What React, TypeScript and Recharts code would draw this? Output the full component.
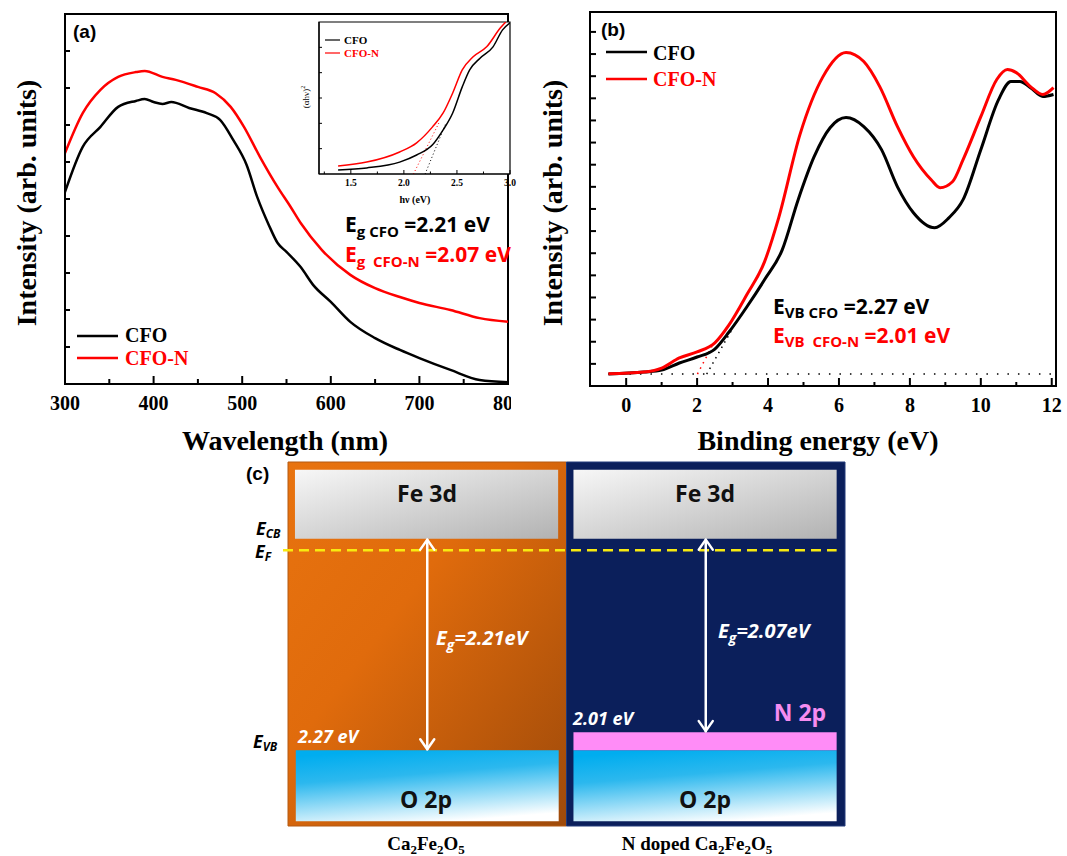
import React from "react";
import { LineChart, Line, XAxis, YAxis, ReferenceArea, ReferenceLine, ComposedChart } from "recharts";

const SERIF = "'Liberation Serif', 'Times New Roman', serif";
const SANS = "'Open Sans', 'Liberation Sans', sans-serif";
const ARIAL = "'Liberation Sans', Arial, sans-serif";
const RED = "#ff0000";

// (a) UV-vis absorbance, arb. units
const cfoWl = [300, 320, 340, 360, 380, 390, 400, 410, 420, 440, 460, 475, 490, 505, 517, 530, 540, 550, 566, 580, 600, 622, 650, 678, 700, 735, 768, 800];
const cfoAbs = [5.19, 6.41, 6.95, 7.49, 7.65, 7.7, 7.62, 7.57, 7.62, 7.46, 7.32, 7.14, 6.59, 5.92, 5.05, 4.3, 3.81, 3.57, 3.16, 2.68, 2.22, 1.68, 1.24, 0.92, 0.7, 0.38, 0.11, 0.05];
const cfoNWl = [300, 320, 340, 360, 380, 390, 410, 425, 450, 470, 487, 502, 520, 540, 554, 566, 590, 622, 650, 678, 700, 735, 768, 800];
const cfoNAbs = [6.24, 7.32, 7.95, 8.3, 8.43, 8.46, 8.3, 8.22, 8.03, 7.86, 7.49, 6.95, 6.14, 5.32, 4.81, 4.35, 3.62, 2.95, 2.59, 2.35, 2.19, 2.0, 1.78, 1.68];
const wlTicks = [300, 350, 400, 450, 500, 550, 600, 650, 700, 750, 800];
const absTicks = [1, 2, 3, 4, 5, 6, 7, 8, 9];

// inset: Tauc plot
const cfoHv = [1.38, 1.65, 1.96, 2.12, 2.27, 2.37, 2.46, 2.55, 2.62, 2.72, 2.84, 2.93, 3.0];
const cfoTauc = [0.16, 0.24, 0.47, 0.75, 1.15, 1.74, 2.41, 3.44, 4.11, 4.58, 5.02, 5.69, 5.97];
const cfoNHv = [1.38, 1.65, 1.96, 2.12, 2.27, 2.37, 2.46, 2.55, 2.65, 2.78, 2.91, 2.96];
const cfoNTauc = [0.32, 0.47, 0.87, 1.23, 1.86, 2.41, 3.2, 4.11, 4.62, 5.02, 5.77, 6.0];
const hvTicks = [1.25, 1.5, 1.75, 2.0, 2.25, 2.5, 2.75, 3.0];
const taucTicks = [1, 2, 3, 4, 5];

// (b) valence band XPS
const cfoBe = [-0.5, 0.5, 1.0, 1.5, 2.0, 2.5, 2.9, 3.4, 3.9, 4.4, 4.85, 5.3, 5.75, 6.2, 6.7, 7.2, 7.65, 8.1, 8.7, 9.1, 9.5, 10.0, 10.5, 10.85, 11.1, 11.4, 11.75, 12.05];
const cfoVb = [0.54, 0.63, 0.72, 1.04, 1.31, 1.67, 2.44, 3.57, 4.8, 6.15, 8.42, 10.36, 11.67, 12.13, 11.72, 10.68, 9.0, 7.83, 7.15, 7.6, 8.42, 10.68, 12.94, 13.76, 13.76, 13.48, 13.08, 13.17];
const cfoNBe = [-0.5, 0.5, 1.0, 1.5, 2.0, 2.5, 2.9, 3.4, 3.9, 4.3, 4.9, 5.55, 6.2, 6.7, 7.15, 7.65, 8.1, 8.6, 8.85, 9.2, 9.5, 10.0, 10.45, 10.75, 11.0, 11.4, 11.75, 12.05];
const cfoNVb = [0.55, 0.63, 0.81, 1.27, 1.54, 1.95, 2.76, 4.12, 5.61, 7.6, 11.36, 13.98, 15.07, 14.66, 13.53, 11.72, 10.36, 9.32, 8.96, 9.23, 10.23, 12.17, 13.85, 14.3, 14.16, 13.53, 13.17, 13.48];
const beTicks = [0, 1, 2, 3, 4, 5, 6, 7, 8, 9, 10, 11, 12];
const vbTicks = [1, 2, 3, 4, 5, 6, 7, 8, 9, 10, 11, 12, 13, 14, 15, 16];

// (c) band diagram
const gapLabels = ["2.21", "2.07"];
const vbLabels = ["2.27", "2.01"];
const bandGap = [2.21, 2.02]; // arrow length down to the top of the valence band (eV)

const pts = (xs: number[], ys: number[]) => xs.map((x, i) => ({ x, y: ys[i] }));

type TickOpts = {
  major: (v: number) => boolean;
  fmt?: (v: number) => string;
  size: number;
  dy: number;
  lenMajor: number;
  lenMinor: number;
  width: number;
};

const bottomTick = (o: TickOpts) => (props: any) => {
  const { x, y, payload } = props;
  const v = payload.value as number;
  const isMajor = o.major(v);
  return (
    <g>
      <line x1={x} x2={x} y1={y} y2={y - (isMajor ? o.lenMajor : o.lenMinor)} stroke="#000" strokeWidth={o.width} />
      {isMajor && o.fmt ? (
        <text x={x} y={y + o.dy} textAnchor="middle" fontFamily={SERIF} fontWeight="bold" fontSize={o.size} fill="#000">
          {o.fmt(v)}
        </text>
      ) : null}
    </g>
  );
};

const leftTick = (len: number, width: number) => (props: any) => (
  <line x1={props.x} x2={props.x + len} y1={props.y} y2={props.y} stroke="#000" strokeWidth={width} />
);

type Part = [string, boolean];
function Rich(props: {
  x: number; y: number; parts: Part[]; size: number; sub: number; shift: number;
  family: string; fill: string; weight?: string; italic?: boolean; anchor?: string;
}) {
  let cur = 0;
  return (
    <text
      x={props.x}
      y={props.y}
      fontFamily={props.family}
      fontSize={props.size}
      fontWeight={props.weight ?? "bold"}
      fontStyle={props.italic ? "italic" : "normal"}
      fill={props.fill}
      textAnchor={props.anchor ?? "start"}
      style={{ whiteSpace: "pre" }}
    >
      {props.parts.map(([t, isSub], i) => {
        const target = isSub ? props.shift : 0;
        const d = target - cur;
        cur = target;
        return (
          <tspan key={i} dy={d} fontSize={isSub ? props.sub : props.size}>
            {t}
          </tspan>
        );
      })}
    </text>
  );
}

const formula = (prefix: string): Part[] => [
  [prefix + "Ca", false], ["2", true], ["Fe", false], ["2", true], ["O", false], ["5", true],
];

function Arrow(p: any) {
  const { x1, y1, x2, y2 } = p;
  const top = Math.min(y1, y2) + 1;
  const bot = Math.max(y1, y2) - 1;
  return (
    <g stroke="#fff" strokeWidth={2.5} fill="none" strokeLinecap="round" strokeLinejoin="round">
      <line x1={x1} x2={x2} y1={top} y2={bot} />
      <polyline points={`${x1 - 7},${top + 10} ${x1},${top} ${x1 + 7},${top + 10}`} />
      <polyline points={`${x1 - 7},${bot - 10} ${x1},${bot} ${x1 + 7},${bot - 10}`} />
    </g>
  );
}

export default function App() {
  const wlTick = bottomTick({ major: (v) => v % 100 === 0, fmt: (v) => String(v), size: 20, dy: 26, lenMajor: 8, lenMinor: 5, width: 2 });
  const beTick = bottomTick({ major: (v) => v % 2 === 0, fmt: (v) => String(v), size: 20, dy: 26, lenMajor: 8, lenMinor: 4, width: 2 });
  const hvTick = bottomTick({
    major: (v) => Math.abs(v * 2 - Math.round(v * 2)) < 1e-6,
    fmt: (v) => v.toFixed(1),
    size: 9.5, dy: 12, lenMajor: 4, lenMinor: 2.5, width: 1,
  });

  return (
    <div style={{ position: "absolute", left: 0, top: 0, width: 1067, height: 856, background: "#fff", overflow: "hidden" }}>
      <svg width={0} height={0} style={{ position: "absolute" }}>
        <defs>
          <linearGradient id="orangeBg" x1="0" y1="0" x2="1" y2="1">
            <stop offset="0" stopColor="#e8730f" />
            <stop offset="0.4" stopColor="#e06b0c" />
            <stop offset="1" stopColor="#9e4a0a" />
          </linearGradient>
          <linearGradient id="feBand" x1="0" y1="0" x2="1" y2="1">
            <stop offset="0" stopColor="#f7f7f7" />
            <stop offset="1" stopColor="#b2b2b2" />
          </linearGradient>
          <linearGradient id="oBand" x1="0.3" y1="0" x2="0.6" y2="1">
            <stop offset="0" stopColor="#00adef" />
            <stop offset="0.35" stopColor="#2cb8ee" />
            <stop offset="1" stopColor="#ffffff" />
          </linearGradient>
        </defs>
      </svg>

      {/* (a) absorbance */}
      <div style={{ position: "absolute", left: 0, top: 0, width: 511, height: 460, overflow: "hidden" }}>
        <LineChart width={540} height={460} margin={{ top: 14, right: 32, bottom: 0, left: 5 }}>
          <XAxis type="number" dataKey="x" domain={[300, 800]} ticks={wlTicks} interval={0} tickSize={0} tickMargin={0}
            tick={wlTick} height={76} axisLine={{ stroke: "#000", strokeWidth: 2 }} allowDataOverflow />
          <YAxis type="number" domain={[0, 10]} ticks={absTicks} interval={0} tickSize={0} tickMargin={0}
            tick={leftTick(5, 2)} width={60} axisLine={{ stroke: "#000", strokeWidth: 2 }} allowDataOverflow />
          <ReferenceArea x1={300} x2={800} y1={0} y2={10} fill="none" stroke="#000" strokeWidth={2} ifOverflow="visible" />
          <Line data={pts(cfoWl, cfoAbs)} dataKey="y" type="monotone" stroke="#000" strokeWidth={2.5} dot={false} isAnimationActive={false} />
          <Line data={pts(cfoNWl, cfoNAbs)} dataKey="y" type="monotone" stroke={RED} strokeWidth={2.5} dot={false} isAnimationActive={false} />
        </LineChart>
      </div>

      {/* inset Tauc plot */}
      <div style={{ position: "absolute", left: 280, top: 15, width: 240, height: 200 }}>
        <LineChart width={240} height={200} margin={{ top: 7, right: 10, bottom: 26, left: 29 }}>
          <XAxis type="number" dataKey="x" domain={[1.2, 3.0]} ticks={hvTicks} interval={0} tickSize={0} tickMargin={0}
            tick={hvTick} height={15} axisLine={{ stroke: "#000", strokeWidth: 1.2 }} allowDataOverflow />
          <YAxis type="number" domain={[0, 6]} ticks={taucTicks} interval={0} tickSize={0} tickMargin={0}
            tick={leftTick(3, 1)} width={10} axisLine={{ stroke: "#000", strokeWidth: 1.2 }} allowDataOverflow />
          <ReferenceArea x1={1.2} x2={3.0} y1={0} y2={6} fill="#fff" fillOpacity={1} stroke="#000" strokeWidth={1.2} ifOverflow="visible" />
          <ReferenceLine segment={[{ x: 2.2, y: 0 }, { x: 2.39, y: 1.95 }]} stroke="#000" strokeWidth={1} strokeDasharray="1 2.5" />
          <ReferenceLine segment={[{ x: 2.09, y: 0 }, { x: 2.34, y: 2.1 }]} stroke={RED} strokeWidth={1} strokeDasharray="1 2.5" />
          <Line data={pts(cfoHv, cfoTauc)} dataKey="y" type="monotone" stroke="#000" strokeWidth={1.5} dot={false} isAnimationActive={false} />
          <Line data={pts(cfoNHv, cfoNTauc)} dataKey="y" type="monotone" stroke={RED} strokeWidth={1.5} dot={false} isAnimationActive={false} />
        </LineChart>
      </div>

      {/* (b) valence band */}
      <div style={{ position: "absolute", left: 530, top: 0, width: 537, height: 460 }}>
        <LineChart width={537} height={460} margin={{ top: 12, right: 11, bottom: 0, left: 0 }}>
          <XAxis type="number" dataKey="x" domain={[-1.02, 12.12]} ticks={beTicks} interval={0} tickSize={0} tickMargin={0}
            tick={beTick} height={74} axisLine={{ stroke: "#000", strokeWidth: 2 }} allowDataOverflow />
          <YAxis type="number" domain={[0, 16.9]} ticks={vbTicks} interval={0} tickSize={0} tickMargin={0}
            tick={leftTick(6, 2)} width={60} axisLine={{ stroke: "#000", strokeWidth: 2 }} allowDataOverflow />
          <ReferenceArea x1={-1.02} x2={12.12} y1={0} y2={16.9} fill="none" stroke="#000" strokeWidth={2} ifOverflow="visible" />
          <ReferenceLine segment={[{ x: -0.5, y: 0.54 }, { x: 12, y: 0.54 }]} stroke="#000" strokeWidth={1.5} strokeDasharray="1.5 9" />
          <ReferenceLine segment={[{ x: 2.27, y: 0.54 }, { x: 3.0, y: 2.6 }]} stroke="#000" strokeWidth={1.5} strokeDasharray="1.5 4.5" />
          <ReferenceLine segment={[{ x: 2.01, y: 0.54 }, { x: 2.42, y: 1.8 }]} stroke={RED} strokeWidth={1.5} strokeDasharray="1.5 4.5" />
          <Line data={pts(cfoBe, cfoVb)} dataKey="y" type="monotone" stroke="#000" strokeWidth={3} dot={false} isAnimationActive={false} />
          <Line data={pts(cfoNBe, cfoNVb)} dataKey="y" type="monotone" stroke={RED} strokeWidth={3} dot={false} isAnimationActive={false} />
        </LineChart>
      </div>

      {/* (c) band diagram */}
      <div style={{ position: "absolute", left: 240, top: 455, width: 620, height: 401 }}>
        <ComposedChart width={620} height={401} margin={{ top: 7, right: 15, bottom: 30, left: 48 }}
          data={bandGap.map((g, i) => ({ x: i + 0.5, y: -g }))}>
          <XAxis type="number" dataKey="x" domain={[0, 2]} hide allowDataOverflow />
          <YAxis type="number" domain={[-3.0, 0.8]} hide allowDataOverflow />
          <ReferenceArea x1={0} x2={1} y1={-3.0} y2={0.8} fill="url(#orangeBg)" fillOpacity={1} stroke="#b45a12" strokeWidth={1} />
          <ReferenceArea x1={1} x2={2} y1={-3.0} y2={0.8} fill="#0b1f5b" fillOpacity={1} stroke="#223a7a" strokeWidth={1} />
          <ReferenceArea x1={0.025} x2={0.97} y1={0} y2={0.72} fill="url(#feBand)" fillOpacity={1} />
          <ReferenceArea x1={1.025} x2={1.97} y1={0} y2={0.72} fill="url(#feBand)" fillOpacity={1} />
          <ReferenceArea x1={0.028} x2={0.972} y1={-2.95} y2={-2.21} fill="url(#oBand)" fillOpacity={1} />
          <ReferenceArea x1={1.025} x2={1.97} y1={-2.95} y2={-2.21} fill="url(#oBand)" fillOpacity={1} />
          <ReferenceArea x1={1.025} x2={1.97} y1={-2.21} y2={-2.02} fill="#ff8cf7" fillOpacity={1} />
          <ReferenceLine segment={[{ x: -0.018, y: -0.12 }, { x: 1.97, y: -0.12 }]} stroke="#f8ea10" strokeWidth={2.5}
            strokeDasharray="10 6" ifOverflow="visible" />
          {bandGap.map((g, i) => (
            <ReferenceLine key={i} segment={[{ x: i + 0.5, y: 0 }, { x: i + 0.5, y: -g }]} shape={Arrow} />
          ))}
        </ComposedChart>
      </div>

      {/* texts */}
      <svg width={1067} height={856} style={{ position: "absolute", left: 0, top: 0, pointerEvents: "none" }}>
        <text x={73} y={38} fontFamily={ARIAL} fontWeight="bold" fontSize={19}>(a)</text>
        <text x={601} y={36} fontFamily={ARIAL} fontWeight="bold" fontSize={19}>(b)</text>
        <text x={246} y={480} fontFamily={ARIAL} fontWeight="bold" fontSize={19}>(c)</text>

        <text transform="translate(36,203) rotate(-90)" textAnchor="middle" fontFamily={SERIF} fontWeight="bold" fontSize={28}>Intensity (arb. units)</text>
        <text x={285} y={450} textAnchor="middle" fontFamily={SERIF} fontWeight="bold" fontSize={28}>Wavelength (nm)</text>
        <text transform="translate(562,203) rotate(-90)" textAnchor="middle" fontFamily={SERIF} fontWeight="bold" fontSize={28}>Intensity (arb. units)</text>
        <text x={818} y={450} textAnchor="middle" fontFamily={SERIF} fontWeight="bold" fontSize={28}>Binding energy (eV)</text>

        {/* legends */}
        <line x1={77} x2={118} y1={336} y2={336} stroke="#000" strokeWidth={2.5} />
        <text x={125} y={342} fontFamily={SERIF} fontWeight="bold" fontSize={20}>CFO</text>
        <line x1={77} x2={118} y1={358} y2={358} stroke={RED} strokeWidth={2.5} />
        <text x={125} y={365} fontFamily={SERIF} fontWeight="bold" fontSize={20} fill={RED}>CFO-N</text>

        <line x1={606} x2={647} y1={52} y2={52} stroke="#000" strokeWidth={2.5} />
        <text x={653} y={60} fontFamily={SERIF} fontWeight="bold" fontSize={20}>CFO</text>
        <line x1={606} x2={647} y1={79} y2={79} stroke={RED} strokeWidth={2.5} />
        <text x={653} y={86} fontFamily={SERIF} fontWeight="bold" fontSize={20} fill={RED}>CFO-N</text>

        {/* inset labels */}
        <line x1={325} x2={340} y1={40} y2={40} stroke="#000" strokeWidth={1.2} />
        <text x={344} y={44} fontFamily={SERIF} fontWeight="bold" fontSize={11}>CFO</text>
        <line x1={325} x2={340} y1={53} y2={53} stroke={RED} strokeWidth={1.2} />
        <text x={344} y={57} fontFamily={SERIF} fontWeight="bold" fontSize={11} fill={RED}>CFO-N</text>
        <text x={415} y={203} textAnchor="middle" fontFamily={SERIF} fontWeight="bold" fontSize={10}>hν (eV)</text>
        <text transform="translate(309,97) rotate(-90)" textAnchor="middle" fontFamily={SERIF} fontSize={9}>
          (αhν)<tspan dy={-4} fontSize={6}>2</tspan>
        </text>

        {/* annotations */}
        <Rich x={345} y={232} parts={[["E", false], ["g CFO", true], [" =2.21 eV", false]]} size={21} sub={15} shift={5} family={SANS} fill="#000" />
        <Rich x={345} y={262} parts={[["E", false], ["g  CFO-N", true], [" =2.07 eV", false]]} size={21} sub={15} shift={5} family={SANS} fill={RED} />
        <Rich x={773} y={314} parts={[["E", false], ["VB CFO", true], [" =2.27 eV", false]]} size={21} sub={15} shift={4} family={SANS} fill="#000" />
        <Rich x={773} y={343} parts={[["E", false], ["VB  CFO-N", true], [" =2.01 eV", false]]} size={21} sub={15} shift={4} family={SANS} fill={RED} />

        {/* band diagram labels */}
        <text x={427} y={502} textAnchor="middle" fontFamily={SANS} fontWeight="bold" fontSize={23} fill="#111">Fe 3d</text>
        <text x={705} y={502} textAnchor="middle" fontFamily={SANS} fontWeight="bold" fontSize={23} fill="#111">Fe 3d</text>
        <text x={426} y={808} textAnchor="middle" fontFamily={SANS} fontWeight="bold" fontSize={23} fill="#111">O 2p</text>
        <text x={705} y={808} textAnchor="middle" fontFamily={SANS} fontWeight="bold" fontSize={23} fill="#111">O 2p</text>
        <text x={800} y={721} textAnchor="middle" fontFamily={SANS} fontWeight="bold" fontSize={23} fill="#f58cf0">N 2p</text>
        <text x={298} y={743} fontFamily={SANS} fontWeight="bold" fontStyle="italic" fontSize={18} fill="#fff">{vbLabels[0]} eV</text>
        <text x={573} y={725} fontFamily={SANS} fontWeight="bold" fontStyle="italic" fontSize={18} fill="#fff">{vbLabels[1]} eV</text>
        <Rich x={436} y={645} parts={[["E", false], ["g", true], ["=" + gapLabels[0] + "eV", false]]} size={20} sub={14} shift={5} family={SANS} fill="#fff" italic />
        <Rich x={718} y={638} parts={[["E", false], ["g", true], ["=" + gapLabels[1] + "eV", false]]} size={20} sub={14} shift={5} family={SANS} fill="#fff" italic />
        <Rich x={256} y={535} parts={[["E", false], ["CB", true]]} size={18} sub={12} shift={3} family={SANS} fill="#000" italic />
        <Rich x={255} y={558} parts={[["E", false], ["F", true]]} size={18} sub={12} shift={3} family={SANS} fill="#000" italic />
        <Rich x={253} y={748} parts={[["E", false], ["VB", true]]} size={18} sub={12} shift={3} family={SANS} fill="#000" italic />
        <Rich x={426} y={850} parts={formula("")} size={19} sub={13} shift={4} family={SERIF} fill="#000" anchor="middle" />
        <Rich x={697} y={850} parts={formula("N doped ")} size={19} sub={13} shift={4} family={SERIF} fill="#000" anchor="middle" />
      </svg>
    </div>
  );
}
